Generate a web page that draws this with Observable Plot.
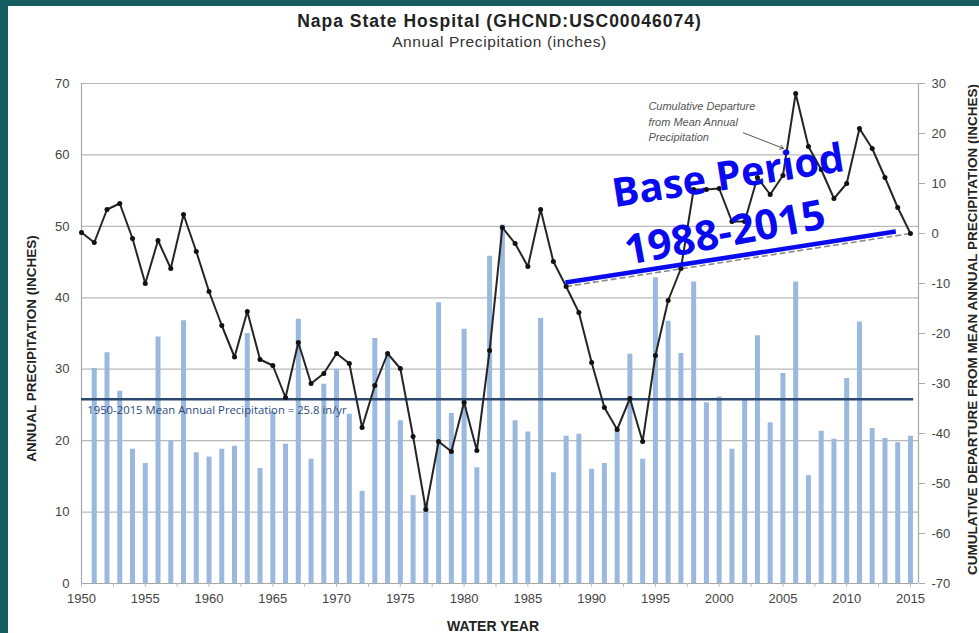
<!DOCTYPE html>
<html>
<head>
<meta charset="utf-8">
<script src="https://cdn.jsdelivr.net/npm/d3@7"></script>
<script src="https://cdn.jsdelivr.net/npm/@observablehq/plot@0.6"></script>
<style>
  html, body { margin: 0; padding: 0; }
  body { width: 979px; height: 633px; background: #155d5f; position: relative; overflow: hidden;
         font-family: "Liberation Sans", Arial, sans-serif; }
  #panel { position: absolute; left: 8px; top: 6px; width: 971px; height: 627px; background: #fff; }
  #title { position: absolute; left: 0; width: 999px; top: 10px; line-height: 22px; text-align: center;
           font-size: 17.5px; font-weight: bold; color: #222; letter-spacing: 1px; }
  #subtitle { position: absolute; left: 0; width: 999px; top: 33px; line-height: 18px; text-align: center;
              font-size: 15.5px; color: #333; letter-spacing: 0.6px; }
  #chart { position: absolute; left: 0; top: 0; }
</style>
</head>
<body>
<div id="panel"></div>
<div id="title">Napa State Hospital (GHCND:USC00046074)</div>
<div id="subtitle">Annual Precipitation (inches)</div>
<div id="chart"></div>
<script>
// ---- data ----
const years = [1950,1951,1952,1953,1954,1955,1956,1957,1958,1959,
               1960,1961,1962,1963,1964,1965,1966,1967,1968,1969,
               1970,1971,1972,1973,1974,1975,1976,1977,1978,1979,
               1980,1981,1982,1983,1984,1985,1986,1987,1988,1989,
               1990,1991,1992,1993,1994,1995,1996,1997,1998,1999,
               2000,2001,2002,2003,2004,2005,2006,2007,2008,2009,
               2010,2011,2012,2013,2014,2015];
// annual precipitation (inches), left axis
const precip = [null,30.1,32.3,26.9,18.8,16.8,34.5,20.0,36.8,18.3,
                17.7,18.8,19.2,35.0,16.1,24.0,19.5,37.0,17.4,27.9,
                30.0,23.7,12.9,34.3,32.2,22.8,12.3,11.2,39.3,23.8,
                35.6,16.2,45.8,50.2,22.8,21.2,37.1,15.5,20.6,20.9,
                16.0,16.8,21.4,32.1,17.4,42.8,36.7,32.2,42.2,25.3,
                26.1,18.8,25.9,34.7,22.5,29.4,42.2,15.1,21.3,20.2,
                28.7,36.6,21.7,20.3,19.7,20.6];
// cumulative departure from mean annual precipitation (inches), right axis
const cumDeparture = [0.2,-1.8,4.8,6.0,-1.0,-10.0,-1.4,-7.0,3.8,-3.6,
                      -11.6,-18.4,-24.7,-15.6,-25.2,-26.4,-32.8,-21.8,-30.0,-28.0,
                      -24.0,-26.0,-38.8,-30.4,-24.0,-27.0,-40.6,-55.2,-41.6,-43.6,
                      -33.8,-43.4,-23.4,1.2,-2.0,-6.6,4.8,-5.6,-10.6,-15.8,
                      -25.8,-34.8,-39.2,-33.0,-41.6,-24.4,-13.4,-7.0,8.8,8.8,
                      9.0,2.4,2.4,11.2,7.8,11.6,28.0,17.4,12.8,7.0,
                      10.0,21.0,17.0,11.2,5.2,0.0];
const meanPrecip = 25.8;
const leftTicks = [0,10,20,30,40,50,60,70];
const rightTicks = [-70,-60,-50,-40,-30,-20,-10,0,10,20,30];
const xTickLabels = [1950,1955,1960,1965,1970,1975,1980,1985,1990,1995,2000,2005,2010,2015];
const xMinorTicks = [1950,1952.5,1955,1957.5,1960,1962.5,1965,1967.5,1970,1972.5,1975,1977.5,1980,1982.5,
                     1985,1987.5,1990,1992.5,1995,1997.5,2000,2002.5,2005,2007.5,2010,2012.5,2015];
const basePeriod = [1988, 2015];

const meanLabel = "1950-2015 Mean Annual Precipitation = 25.8 in/yr";
const calloutLabel = "Cumulative Departure\nfrom Mean Annual\nPrecipitation";
const baseLabels = ["Base Period", "1988-2015"];

// ---- chart ----
const toLeft = c => (c + 70) * 0.7;          // right-axis value -> left-axis units
const rows = years.map((yr, i) => ({year: yr, p: precip[i], c: cumDeparture[i]}));
const bars = rows.filter(d => d.p != null);
const baseRows = rows.filter(d => basePeriod.includes(d.year));
const xMax = 2015.63;

const annot = [
  {t: baseLabels[0], x: 2000.7, y: 57.0, r: -9, s: 40},
  {t: baseLabels[1], x: 2000.45, y: 49.0, r: -10.5, s: 41.5}
];

const chart = Plot.plot({
  width: 979,
  height: 633,
  marginLeft: 81,
  marginRight: 61,
  marginTop: 83,
  marginBottom: 50,
  x: {domain: [1950, xMax], axis: null},
  y: {domain: [0, 70], axis: null},
  style: {background: "transparent", fontFamily: "'Liberation Sans', Arial, sans-serif", overflow: "visible"},
  marks: [
    Plot.gridY(leftTicks.slice(1), {stroke: "#b9b9b9", strokeOpacity: 1, strokeWidth: 1.2}),
    Plot.ruleX([1950, xMax], {y1: 0, y2: 70, stroke: "#a8a8a8", strokeWidth: 1.2}),
    Plot.ruleY([0], {stroke: "#a8a8a8", strokeWidth: 1.2}),
    Plot.ruleX(bars, {x: "year", y1: 0, y2: "p", stroke: "#9bb8df", strokeWidth: 5}),
    Plot.ruleY([meanPrecip], {x1: 1950, x2: 2015.25, stroke: "#2d4870", strokeWidth: 2.5}),
    Plot.text([meanLabel], {x: 1950.45, y: 24.2, text: d => d, textAnchor: "start", fontSize: 11.3,
      fontFamily: "'Open Sans', sans-serif", fill: "#2d4a78"}),
    Plot.link([baseRows], {x1: d => d[0].year, y1: d => toLeft(d[0].c), x2: d => d[1].year, y2: d => toLeft(d[1].c),
      stroke: "#8a8a8a", strokeWidth: 1.6, strokeDasharray: "6,3"}),
    Plot.line(rows, {x: "year", y: d => toLeft(d.c), stroke: "#252525", strokeWidth: 2}),
    Plot.dot(rows, {x: "year", y: d => toLeft(d.c), r: 2.5, fill: "#111", stroke: "none"}),
    Plot.link([{x1: 1987.95, y1: -9.8, x2: 2013.85, y2: 0.4}], {x1: "x1", y1: d => toLeft(d.y1), x2: "x2", y2: d => toLeft(d.y2),
      stroke: "#0a0af0", strokeWidth: 4.5}),
    Plot.text([calloutLabel], {x: 1994.45, y: 64.8, text: d => d, textAnchor: "start", fontSize: 11,
      fontStyle: "italic", lineHeight: 1.38, fill: "#555"}),
    Plot.arrow([{x1: 2001.9, y1: 63.1, x2: 2005.05, y2: 60.9}], {x1: "x1", y1: "y1", x2: "x2", y2: "y2",
      stroke: "#555", strokeWidth: 1, headLength: 6}),
    Plot.text(annot, {x: "x", y: "y", text: "t", rotate: "r", fontSize: "s", fontWeight: "bold",
      fontFamily: "'Open Sans', sans-serif", fill: "#0a0af0"}),
    // left axis
    Plot.axisY(leftTicks, {anchor: "left", tickSize: 0, tickPadding: 12, fontSize: 13, fill: "#444", label: null}),
    // right axis (cumulative departure)
    Plot.axisY(rightTicks.map(toLeft), {anchor: "right", tickSize: 6, tickPadding: 7, fontSize: 13,
      stroke: "#aaa", fill: "#444", label: null, tickFormat: v => String(Math.round(v / 0.7 - 70))}),
    // x axis
    Plot.axisX(xMinorTicks, {tickSize: 4, tickFormat: () => "", stroke: "#bbb", label: null}),
    Plot.axisX(xTickLabels, {tickSize: 0, tickPadding: 10, fontSize: 13, fill: "#444", label: null, tickFormat: d => String(d)}),
    // axis titles
    Plot.text(["ANNUAL PRECIPITATION (INCHES)"], {frameAnchor: "left", dx: -50, dy: 15, textAnchor: "middle", lineAnchor: "middle",
      rotate: -90, text: d => d, fontSize: 13.5, fontWeight: "bold", fill: "#222"}),
    Plot.text(["CUMULATIVE DEPARTURE FROM MEAN ANNUAL PRECIPITATION (INCHES)"], {frameAnchor: "right", dx: 54, dy: -4,
      textAnchor: "middle", lineAnchor: "middle", rotate: -90, text: d => d, fontSize: 13.5, fontWeight: "bold", fill: "#222"}),
    Plot.text(["WATER YEAR"], {frameAnchor: "bottom", dy: 43, dx: -7, textAnchor: "middle", lineAnchor: "middle",
      text: d => d, fontSize: 14, fontWeight: "bold", fill: "#222"})
  ]
});
document.getElementById("chart").appendChild(chart);
</script>
</body>
</html>
